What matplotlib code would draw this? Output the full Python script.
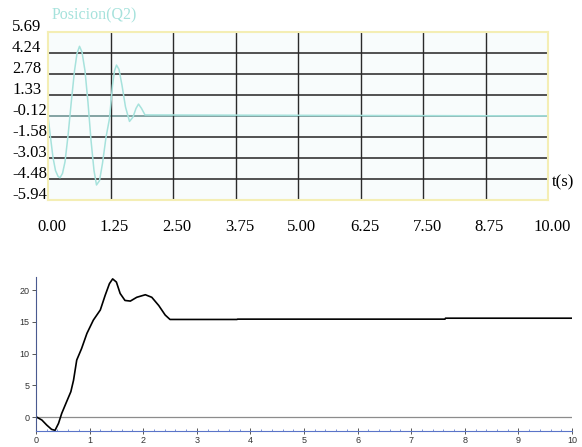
import matplotlib.pyplot as plt
import numpy as np

# upper panel: Posicion(Q2) trace
pos_t = [0, 0.05, 0.1, 0.15, 0.2, 0.24, 0.29, 0.34, 0.4, 0.47, 0.53, 0.58, 0.63,
         0.68, 0.74, 0.8, 0.86, 0.92, 0.97, 1.03, 1.09, 1.16, 1.23, 1.29, 1.33,
         1.37, 1.42, 1.48, 1.55, 1.63, 1.7, 1.76, 1.81, 1.87, 1.94, 10.0]
pos_y = [-0.12, -1.6, -3.0, -3.9, -4.3, -4.4, -4.1, -3.3, -1.5, 1.0, 3.0, 4.2, 4.7,
         4.3, 3.0, 0.8, -1.8, -3.9, -4.9, -4.6, -3.4, -1.6, -0.3, 2.0, 3.0,
         3.4, 3.1, 2.0, 0.5, -0.5, -0.2, 0.4, 0.7, 0.4, -0.05, -0.12]
top_yticks = [5.69, 4.24, 2.78, 1.33, -0.12, -1.58, -3.03, -4.48, -5.94]
top_xticks = [0.00, 1.25, 2.50, 3.75, 5.00, 6.25, 7.50, 8.75, 10.00]

# lower panel: response curve
resp_t = [0, 0.11, 0.2, 0.29, 0.355, 0.42, 0.48, 0.57, 0.65, 0.70, 0.76, 0.85,
          0.95, 1.07, 1.2, 1.29, 1.37, 1.43, 1.50, 1.57, 1.66, 1.76, 1.88, 2.04,
          2.16, 2.29, 2.41, 2.5, 3.75, 3.76, 7.63, 7.64, 10.0]
resp_y = [0.05, -0.47, -1.26, -1.94, -2.1, -1.0, 0.58, 2.4, 4.0, 5.8, 9.0, 10.8,
          13.2, 15.3, 16.9, 19.2, 21.05, 21.8, 21.3, 19.5, 18.4, 18.3, 18.9, 19.3,
          18.9, 17.6, 16.1, 15.4, 15.4, 15.45, 15.45, 15.6, 15.6]

W, H = 582, 447
fig = plt.figure(figsize=(W / 100, H / 100), dpi=100)
serif = ['Liberation Serif', 'DejaVu Serif']

# ---- upper panel ----
ax1 = fig.add_axes([48 / W, 1 - 200 / H, 500 / W, 168 / H])
ax1.set_facecolor('#f8fcfc')
ax1.set_xlim(0, 10)
ax1.set_ylim(-5.94, 5.69)
for v in top_yticks[1:-1]:
    c = '#7a9c9c' if v == -0.12 else '#444444'
    ax1.axhline(v, color=c, lw=1.3, zorder=1)
for v in top_xticks[1:-1]:
    ax1.axvline(v, color='#2a2a2a', lw=1.0, zorder=1)
ax1.plot(pos_t, pos_y, color='#a6e2dc', lw=1.1, zorder=2)
for s in ax1.spines.values():
    s.set_color('#f4eeb4')
    s.set_linewidth(1.5)
ax1.set_xticks([])
ax1.set_yticks([])
for v in top_yticks:
    ax1.annotate(f'{v:.2f}', xy=(0, v), xycoords=('axes fraction', 'data'),
                 xytext=(-36, 5), textcoords='offset pixels',
                 ha='left', va='center', fontsize=12, family=serif)
for v in top_xticks:
    ax1.annotate(f'{v:.2f}', xy=(v, 0), xycoords=('data', 'axes fraction'),
                 xytext=(4, -27), textcoords='offset pixels',
                 ha='center', va='center', fontsize=12, family=serif)
ax1.text(552 / W, 1 - 182 / H, 't(s)', transform=fig.transFigure,
         ha='left', va='center', fontsize=12, family=serif)
ax1.text(52 / W, 1 - 15 / H, 'Posicion(Q2)', transform=fig.transFigure,
         ha='left', va='center', fontsize=11.5, family=serif, color='#a6e2dc')

# ---- lower panel ----
ax2 = fig.add_axes([36 / W, 1 - 431 / H, 536 / W, 154 / H])
ax2.set_xlim(0, 10)
ax2.set_ylim(-2.2, 22.1)
ax2.plot([0, 10], [0, 0], color='#8c8c8c', lw=0.9)
ax2.plot(resp_t, resp_y, color='black', lw=1.2)
ax2.spines['top'].set_visible(False)
ax2.spines['right'].set_visible(False)
ax2.spines['left'].set_color('#4a5a90')
ax2.spines['bottom'].set_color('#5a74c8')
ax2.set_xticks(range(0, 11))
ax2.set_xticks(np.arange(0, 10.01, 0.2), minor=True)
ax2.set_yticks([0, 5, 10, 15, 20])
ax2.tick_params(axis='both', labelsize=6.5, labelcolor='#333333',
                colors='#555555', length=3, width=0.7, pad=1.5,
                labelfontfamily='Liberation Sans')
ax2.tick_params(axis='x', which='major', direction='inout', length=4)
ax2.tick_params(axis='x', which='minor', direction='in', length=1.5,
                color='#6a84d0')

fig.savefig('out.png', dpi=100)
